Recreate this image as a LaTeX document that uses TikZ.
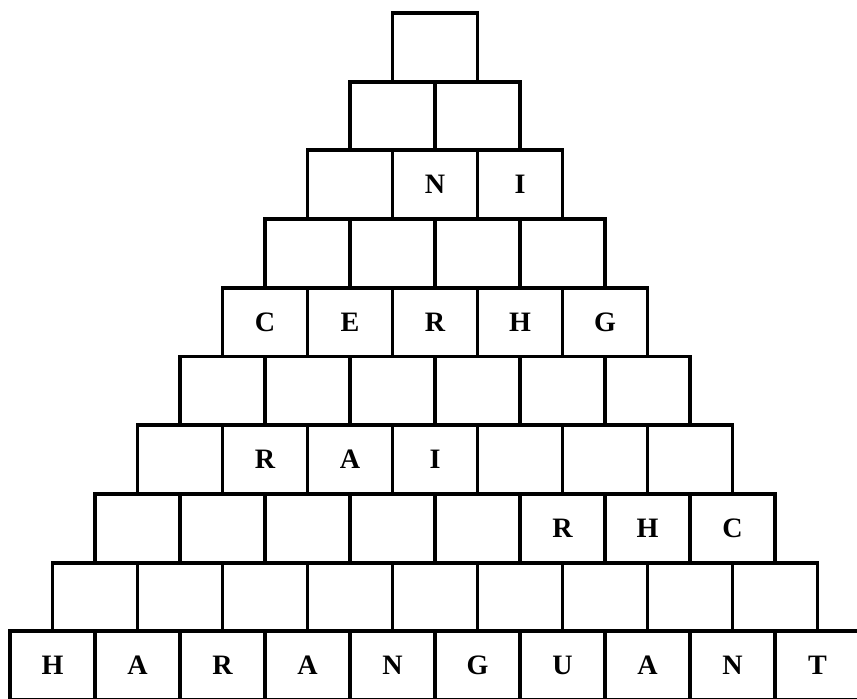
\documentclass[tikz,border=0pt]{standalone}
\usepackage{fontspec}
\setmainfont{Liberation Serif}

\begin{document}
\begin{tikzpicture}[x=0.02cm, y=-0.02cm,
    cell/.style={draw, line width=2.2pt, minimum width=1.7cm, minimum height=1.374cm,
                 inner sep=0pt, outer sep=0pt},
    letter/.style={font=\fontsize{16}{18}\selectfont\bfseries, inner sep=0pt}]

        \useasboundingbox (0,0) rectangle (857,698);

        % ===================================================
        % 1. BOXES, ROW BY ROW (row 1 on top, row 10 at the base)
        % ===================================================
        \foreach \r in {1,...,10} {
            \foreach \k in {1,...,\r} {
                \node[cell] (c\r-\k) at ({10 + (10-\r)*42.5 + (\k-0.5)*85}, {13 + (\r-0.5)*68.7}) {};
            }
        }

        % ===================================================
        % 2. LETTERS PLACED IN THEIR BOXES
        % ===================================================
        \foreach \r/\k/\ch in {3/2/N, 3/3/I,
                               5/1/C, 5/2/E, 5/3/R, 5/4/H, 5/5/G,
                               7/2/R, 7/3/A, 7/4/I,
                               8/6/R, 8/7/H, 8/8/C,
                               10/1/H, 10/2/A, 10/3/R, 10/4/A, 10/5/N,
                               10/6/G, 10/7/U, 10/8/A, 10/9/N, 10/10/T} {
            \node[letter] (t\r-\k) at (c\r-\k) {\ch};
        }

    \end{tikzpicture}
\end{document}
